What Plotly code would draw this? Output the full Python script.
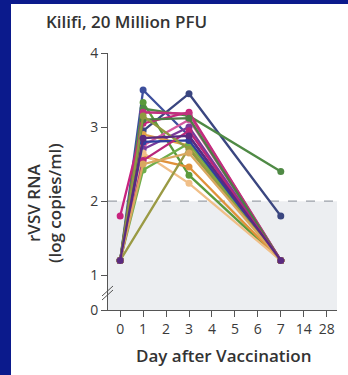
import plotly.graph_objects as go

# Sampling days and their tick labels
days = ["0", "1", "2", "3", "4", "5", "6", "7", "14", "28"]
sample_days = ["0", "1", "3", "7"]

# rVSV RNA (log copies/ml) per participant at days 0, 1, 3, 7
subjects = {
    "P01": [1.2, 3.50, 2.88, 1.2],
    "P02": [1.2, 2.95, 3.45, 1.8],
    "P03": [1.2, 3.33, 2.35, 1.2],
    "P04": [1.2, 3.25, 3.15, 2.4],
    "P05": [1.8, 3.05, 3.20, 1.2],
    "P06": [1.2, 3.20, 3.18, 1.2],
    "P07": [1.2, 2.75, 3.10, 1.2],
    "P09": [1.2, 2.70, 3.00, 1.2],
    "P10": [1.2, 2.60, 2.46, 1.2],
    "P11": [1.2, 2.65, 2.24, 1.2],
    "P12": [1.2, 2.90, 2.75, 1.2],
    "P13": [1.2, None, 2.72, 1.2],
    "P14": [1.2, 2.42, 2.78, 1.2],
    "P15": [1.2, 3.10, 3.12, 1.2],
    "P16": [1.2, 2.80, 2.82, 1.2],
    "P17": [1.2, 2.55, 2.95, 1.2],
    "P18": [1.2, 3.15, 2.70, 1.2],
    "P19": [1.2, 2.50, 2.65, 1.2],
    "P08": [1.2, 2.85, 2.88, 1.2],
}
colors = {
    "P01": "#3d4f9c", "P02": "#3a4680", "P03": "#5a9a3c", "P04": "#4f8a45",
    "P05": "#c8237e", "P06": "#c2307f", "P07": "#d45aa0", "P08": "#5a2a80",
    "P09": "#7a3a9a", "P10": "#e0913a", "P11": "#f0bf88", "P12": "#e4a24a",
    "P13": "#9a9a44", "P14": "#6fae4a", "P15": "#4d7c45", "P16": "#2f3f9f",
    "P17": "#b8267a", "P18": "#8f9a40", "P19": "#d9a860",
}

lod = 2.0          # dashed limit line
axis_floor = 0.53  # position of the broken-axis "0"

W, H = 348, 375
L, R, T, B = 108, 11, 53, 65
pw, ph = W - L - R, H - T - B


def px(x):
    return (x - L) / pw


def py(y):
    return (H - B - y) / ph


fig = go.Figure()

xpos = {d: i for i, d in enumerate(days)}
for sid, vals in subjects.items():
    fig.add_trace(go.Scatter(
        x=[xpos[d] for d in sample_days], y=vals,
        mode="lines+markers", connectgaps=True,
        line=dict(color=colors[sid], width=2.3),
        marker=dict(color=colors[sid], size=7),
        showlegend=False, hoverinfo="skip",
    ))

shapes = [
    # shaded band below the limit
    dict(type="rect", xref="x", yref="y", x0=-0.53, x1=9.45, y0=axis_floor, y1=lod,
         fillcolor="#eceef1", line=dict(width=0), layer="below"),
    dict(type="line", xref="x", yref="y", x0=-0.53, x1=9.45, y0=lod, y1=lod,
         line=dict(color="#9aa0a8", width=1.3, dash="dash"), layer="below"),
    # axis break marks
    dict(type="line", xref="paper", yref="paper", x0=px(102), x1=px(113), y0=py(296), y1=py(286),
         line=dict(color="#555555", width=1)),
    dict(type="line", xref="paper", yref="paper", x0=px(102), x1=px(113), y0=py(300), y1=py(290),
         line=dict(color="#555555", width=1)),
    # frame border
    dict(type="rect", xref="paper", yref="paper", x0=px(0), x1=px(11), y0=py(0), y1=py(H),
         fillcolor="#0b1a8c", line=dict(width=0)),
    dict(type="rect", xref="paper", yref="paper", x0=px(0), x1=px(W), y0=py(0), y1=py(4),
         fillcolor="#0b1a8c", line=dict(width=0)),
]

font_family = "Open Sans, Noto Sans, sans-serif"
title_font = dict(family=font_family, size=17, color="#333333", weight=600)
annotations = [
    dict(text="Kilifi, 20 Million PFU", xref="paper", yref="paper",
         x=px(44), y=py(21), xanchor="left", yanchor="middle", showarrow=False,
         font=title_font),
    dict(text="rVSV RNA", xref="paper", yref="paper", textangle=-90,
         x=px(34), y=py(203), xanchor="center", yanchor="middle", showarrow=False,
         font=title_font),
    dict(text="(log copies/ml)", xref="paper", yref="paper", textangle=-90,
         x=px(55), y=py(203), xanchor="center", yanchor="middle", showarrow=False,
         font=title_font),
    dict(text="Day after Vaccination", xref="paper", yref="paper",
         x=px(224), y=py(355), xanchor="center", yanchor="middle", showarrow=False,
         font=title_font),
]

fig.update_layout(
    width=W, height=H, autosize=False,
    margin=dict(l=L, r=R, t=T, b=B, pad=0),
    paper_bgcolor="white", plot_bgcolor="rgba(0,0,0,0)",
    shapes=shapes, annotations=annotations,
    font=dict(family=font_family, color="#444444"),
    xaxis=dict(
        range=[-0.53, 9.45], tickmode="array", tickvals=list(range(len(days))), ticktext=days,
        showgrid=False, zeroline=False, showline=True, linecolor="#555555", linewidth=1,
        ticks="outside", ticklen=6, tickcolor="#555555", tickfont=dict(size=14, color="#3a3a3a"),
        fixedrange=True,
    ),
    yaxis=dict(
        range=[axis_floor, 4.0], tickmode="array", tickvals=[axis_floor, 1, 2, 3, 4],
        ticktext=["0", "1", "2", "3", "4"],
        showgrid=False, zeroline=False, showline=True, linecolor="#555555", linewidth=1,
        ticks="outside", ticklen=6, tickcolor="#555555", tickfont=dict(size=14, color="#3a3a3a"),
        fixedrange=True,
    ),
)

fig.write_html("out.html", config={"displayModeBar": False})
